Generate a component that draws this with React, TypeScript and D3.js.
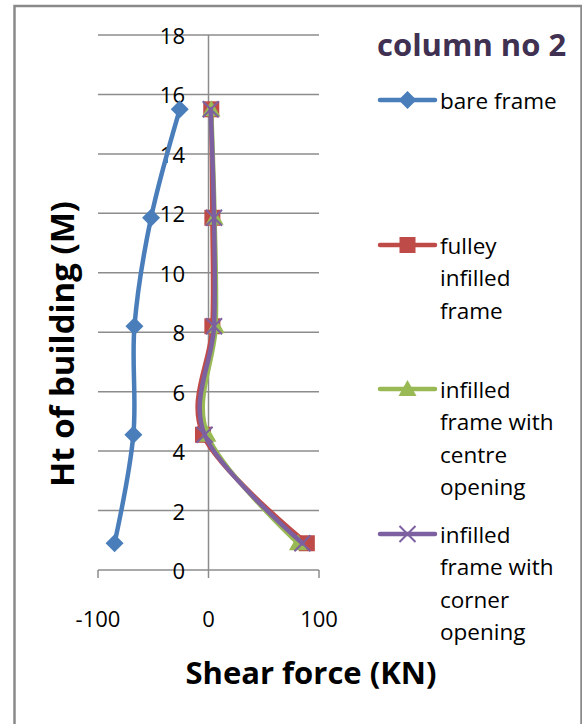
import React from "react";
import * as d3 from "d3";

// storey heights (M) and shear force (KN) per frame type
const heights = [0.9, 4.55, 8.2, 11.85, 15.5];
const bareFrame = [-85, -68, -67, -52, -26];
const fullyInfilled = [89, -5, 3.5, 3.5, 2.5];
const centreOpening = [81, -1, 6.5, 5.5, 2.5];
const cornerOpening = [85, -3.5, 5, 5, 2];

const seriesLabels = [
  ["bare frame"],
  ["fulley", "infilled", "frame"],
  ["infilled", "frame with", "centre", "opening"],
  ["infilled", "frame with", "corner", "opening"],
];
const seriesColors = ["#4a7ebb", "#be4b48", "#98b954", "#7d60a0"];
const markerTypes = ["diamond", "square", "triangle", "cross"];

const yTicks = [0, 2, 4, 6, 8, 10, 12, 14, 16, 18];
const xTicks = [-100, 0, 100];

const W = 582;
const H = 724;
const font = "'Open Sans', 'Noto Sans', sans-serif";

function Marker({ type, x, y, color }: { type: string; x: number; y: number; color: string }) {
  if (type === "diamond") {
    const r = 9;
    return <path d={`M${x},${y - r}L${x + r},${y}L${x},${y + r}L${x - r},${y}Z`} fill={color} />;
  }
  if (type === "square") {
    const r = 8;
    return <rect x={x - r} y={y - r} width={r * 2} height={r * 2} fill={color} />;
  }
  if (type === "triangle") {
    return <path d={`M${x},${y - 9}L${x + 9},${y + 7}L${x - 9},${y + 7}Z`} fill={color} />;
  }
  const r = 8;
  return (
    <path
      d={`M${x - r},${y - r}L${x + r},${y + r}M${x - r},${y + r}L${x + r},${y - r}`}
      stroke={color}
      strokeWidth={2}
    />
  );
}

export default function App() {
  const xScale = d3.scaleLinear().domain([-100, 100]).range([98, 319]);
  const yScale = d3.scaleLinear().domain([0, 18]).range([570, 35]);

  const allSeries = [bareFrame, fullyInfilled, centreOpening, cornerOpening];

  const line = d3
    .line<[number, number]>()
    .x((d) => xScale(d[0]))
    .y((d) => yScale(d[1]))
    .curve(d3.curveCatmullRom.alpha(0));

  const legendY = [100, 245, 389, 534];
  const lineGap = 32.5;

  return (
    <svg width={W} height={H} style={{ position: "absolute", left: 0, top: 0, background: "#fff" }}>
      <rect x={14.5} y={6} width={567} height={740} fill="#fff" stroke="#8a8a8a" strokeWidth={2.5} />

      {/* gridlines */}
      {yTicks
        .filter((t) => t > 0)
        .map((t) => (
          <line
            key={t}
            x1={xScale(-100)}
            x2={xScale(100)}
            y1={yScale(t)}
            y2={yScale(t)}
            stroke="#8c8c8c"
            strokeWidth={1.5}
          />
        ))}

      {/* axes */}
      <line x1={xScale(-100)} x2={xScale(100)} y1={yScale(0)} y2={yScale(0)} stroke="#8c8c8c" strokeWidth={1.5} />
      {xTicks.map((t) => (
        <line key={t} x1={xScale(t)} x2={xScale(t)} y1={yScale(0)} y2={yScale(0) + 8} stroke="#8c8c8c" strokeWidth={1.5} />
      ))}
      <line x1={xScale(0)} x2={xScale(0)} y1={yScale(18)} y2={yScale(0)} stroke="#8c8c8c" strokeWidth={1.5} />

      {/* tick labels */}
      {yTicks.map((t) => (
        <text
          key={t}
          x={185}
          y={yScale(t)}
          textAnchor="end"
          dominantBaseline="central"
          fontFamily={font}
          fontSize={22}
          fill="#000"
        >
          {t}
        </text>
      ))}
      {xTicks.map((t) => (
        <text
          key={t}
          x={xScale(t)}
          y={618}
          textAnchor="middle"
          dominantBaseline="central"
          fontFamily={font}
          fontSize={22}
          fill="#000"
        >
          {t}
        </text>
      ))}

      {/* series */}
      {allSeries.map((vals, i) => {
        const pts = vals.map((v, j) => [v, heights[j]] as [number, number]);
        return (
          <g key={i}>
            <path d={line(pts) || ""} fill="none" stroke={seriesColors[i]} strokeWidth={4.5} strokeLinecap="round" />
            {pts.map((p, j) => (
              <Marker key={j} type={markerTypes[i]} x={xScale(p[0])} y={yScale(p[1])} color={seriesColors[i]} />
            ))}
          </g>
        );
      })}

      {/* titles */}
      <text x={377} y={44} dominantBaseline="central" fontFamily={font} fontWeight="bold" fontSize={31} fill="#403152">
        column no 2
      </text>
      <text x={311} y={684} textAnchor="middle" fontFamily={font} fontWeight="bold" fontSize={31} fill="#000">
        Shear force (KN)
      </text>
      <text
        transform={`translate(74, 344) rotate(-90)`}
        textAnchor="middle"
        fontFamily={font}
        fontWeight="bold"
        fontSize={33}
        fill="#000"
      >
        Ht of building (M)
      </text>

      {/* legend */}
      {seriesLabels.map((lines, i) => (
        <g key={i}>
          <line x1={380} x2={435} y1={legendY[i]} y2={legendY[i]} stroke={seriesColors[i]} strokeWidth={4.5} strokeLinecap="round" />
          <Marker type={markerTypes[i]} x={407.5} y={legendY[i]} color={seriesColors[i]} />
          {lines.map((s, k) => (
            <text
              key={k}
              x={440}
              y={legendY[i] + k * lineGap}
              dominantBaseline="central"
              fontFamily={font}
              fontSize={22.5}
              fill="#000"
            >
              {s}
            </text>
          ))}
        </g>
      ))}
    </svg>
  );
}
